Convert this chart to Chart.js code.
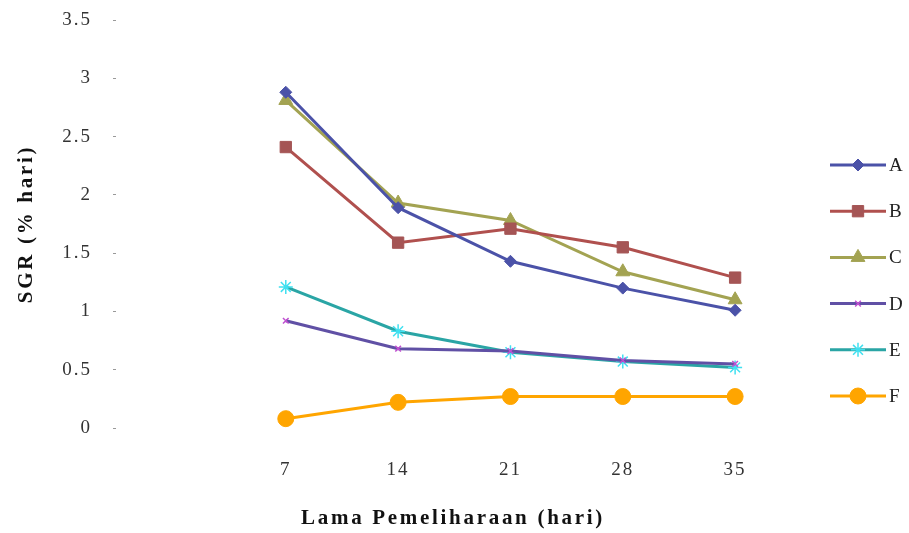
<!DOCTYPE html>
<html>
<head>
<meta charset="utf-8">
<script src="https://cdn.jsdelivr.net/npm/chart.js@4/dist/chart.umd.min.js"></script>
<style>
  html, body { margin: 0; padding: 0; background: #fff; }
  #wrap { width: 909px; height: 533px; }
</style>
</head>
<body>
<div id="wrap"><canvas id="sgr-chart" width="909" height="533"></canvas></div>
<script>
// Lama pemeliharaan (hari)
const days = [7, 14, 21, 28, 35];
const yTicks = [0, 0.5, 1, 1.5, 2, 2.5, 3, 3.5];

// SGR (% hari) per perlakuan
const seriesNames = ["A", "B", "C", "D", "E", "F"];
const sgrA = [2.88, 1.89, 1.43, 1.20, 1.01];
const sgrB = [2.41, 1.59, 1.71, 1.55, 1.29];
const sgrC = [2.81, 1.93, 1.78, 1.34, 1.10];
const sgrD = [0.92, 0.68, 0.66, 0.58, 0.55];
const sgrE = [1.21, 0.83, 0.65, 0.57, 0.52];
const sgrF = [0.08, 0.22, 0.27, 0.27, 0.27];

const serif = "'Liberation Serif', 'DejaVu Serif', serif";

// warna & marker tiap seri
const styles = [
    { line: "#4B52A8", fill: "#4B52A8", point: "rectRot", r: 6 },
    { line: "#B0504E", fill: "#A55555", point: "rect", r: 8 },
    { line: "#A3A352", fill: "#A3A352", point: "triangle", r: 8 },
    { line: "#6050A5", fill: "#C050D0", point: "crossRot", r: 4 },
    { line: "#2AA5A5", fill: "#40E0F0", point: "star", r: 7 },
    { line: "#FFA500", fill: "#FFA500", point: "circle", r: 8 }
];

const values = [sgrA, sgrB, sgrC, sgrD, sgrE, sgrF];

const datasets = seriesNames.map((name, i) => {
    const s = styles[i];
    const stroked = s.point === "crossRot" || s.point === "star";
    return {
        label: name,
        data: days.map((d, j) => ({ x: d, y: values[i][j] })),
        borderColor: s.line,
        borderWidth: 3,
        pointStyle: s.point,
        pointRadius: s.r,
        pointBackgroundColor: s.fill,
        pointBorderColor: s.fill,
        pointBorderWidth: stroked ? 1.5 : 1,
        tension: 0
    };
});

// teks sumbu agak renggang (judul sumbu lebih renggang lagi)
const textSpacing = {
    id: "textSpacing",
    beforeDraw(chart) {
        const ctx = chart.ctx;
        ctx.letterSpacing = "2px";
        Object.values(chart.scales).forEach(scale => {
            if (scale._spaced) return;
            const orig = scale.drawTitle;
            scale.drawTitle = function (...args) {
                ctx.letterSpacing = "2.7px";
                orig.apply(this, args);
                ctx.letterSpacing = "2px";
            };
            scale._spaced = true;
        });
    }
};

// legenda: garis + marker di sebelah kanan
const sideLegend = {
    id: "sideLegend",
    afterDraw(chart) {
        const ctx = chart.ctx;
        const x0 = 830, x1 = 886, top = 165, gap = 46.2;
        ctx.save();
        ctx.letterSpacing = "0px";
        chart.data.datasets.forEach((ds, i) => {
            const y = top + i * gap;
            ctx.strokeStyle = ds.borderColor;
            ctx.lineWidth = 3;
            ctx.beginPath();
            ctx.moveTo(x0, y);
            ctx.lineTo(x1, y);
            ctx.stroke();
            ctx.fillStyle = ds.pointBackgroundColor;
            ctx.strokeStyle = ds.pointBorderColor;
            ctx.lineWidth = ds.pointBorderWidth;
            Chart.helpers.drawPoint(ctx, {
                pointStyle: ds.pointStyle,
                radius: ds.pointRadius,
                rotation: 0,
                borderWidth: ds.pointBorderWidth
            }, (x0 + x1) / 2, y);
            ctx.fillStyle = "#222";
            ctx.font = "19px " + serif;
            ctx.textBaseline = "middle";
            ctx.textAlign = "left";
            ctx.fillText(ds.label, x1 + 3, y + 1);
        });
        ctx.restore();
    }
};

new Chart(document.getElementById("sgr-chart"), {
    type: "line",
    data: { datasets },
    options: {
        responsive: false,
        animation: false,
        layout: { padding: { top: 20, right: 119, bottom: 2, left: 0 } },
        plugins: {
            legend: { display: false },
            tooltip: { enabled: false }
        },
        scales: {
            x: {
                type: "linear",
                min: -3.58,
                max: 38.42,
                afterBuildTicks: (scale) => {
                    scale.ticks = days.map(v => ({ value: v }));
                },
                afterFit: (scale) => { scale.height = 103; },
                grid: { display: false },
                border: { display: false },
                ticks: {
                    color: "#333",
                    font: { family: serif, size: 19 },
                    padding: 23
                },
                title: {
                    display: true,
                    text: "Lama Pemeliharaan (hari)",
                    color: "#111",
                    font: { family: serif, size: 21, weight: "bold" },
                    padding: { top: 12, bottom: 0 }
                }
            },
            y: {
                min: 0,
                max: 3.5,
                afterBuildTicks: (scale) => {
                    scale.ticks = yTicks.map(v => ({ value: v }));
                },
                afterFit: (scale) => {
                    scale.width = 116;
                    scale.paddingTop = 0;
                    scale.paddingBottom = 0;
                },
                grid: {
                    drawOnChartArea: false,
                    drawTicks: true,
                    tickLength: 3,
                    color: "#999"
                },
                border: { display: false },
                ticks: {
                    color: "#333",
                    font: { family: serif, size: 19 },
                    padding: 21,
                    callback: (v) => String(v)
                },
                title: {
                    display: true,
                    text: "SGR (% hari)",
                    color: "#111",
                    font: { family: serif, size: 21, weight: "bold" },
                    padding: { top: 14, bottom: 0 }
                }
            }
        }
    },
    plugins: [textSpacing, sideLegend]
});
</script>
</body>
</html>
